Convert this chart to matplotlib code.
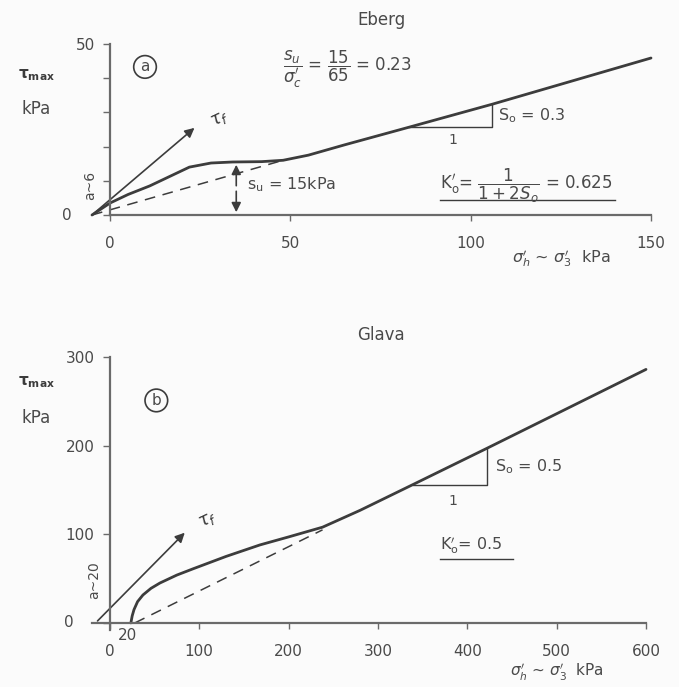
import numpy as np
import matplotlib.pyplot as plt
from matplotlib.patches import FancyArrowPatch

plt.rcParams['font.family'] = ['DejaVu Sans']
plt.rcParams['mathtext.fontset'] = 'dejavusans'

# panel (a) Eberg
eberg_x = [-5, 0, 5, 11, 17, 22, 28, 34, 42, 48, 55, 65, 83, 106, 150]
eberg_y = [0, 3.5, 6, 8.5, 11.5, 14, 15.2, 15.5, 15.6, 16, 17.5, 20.5, 25.7, 32.4, 45.9]
eberg_dash_x = [-5, 48]
eberg_dash_y = [0, 16]
eberg_tauf = [(-5, 0), (24, 26)]
eberg_su_x = 35
eberg_su = 15.5
eberg_tri = [(83, 25.7), (106, 25.7), (106, 32.6)]

# panel (b) Glava
glava_x = [23.5, 25, 27, 31, 37, 46, 56, 75, 93, 130, 168, 200, 238, 280, 339, 422, 600]
glava_y = [0, 8, 15, 24, 31.5, 39, 45, 54, 61, 75, 88, 97, 108, 127, 156, 197, 286]
glava_dash_x = [28, 238]
glava_dash_y = [0, 105]
glava_tauf = [(-16, 0), (86, 104)]
glava_tri = [(339, 156), (422, 156), (422, 197)]

ink = '#3c3c3c'
axc = '#6a6a6a'
txt = '#4a4a4a'

fig = plt.figure(figsize=(6.79, 6.87), dpi=100, facecolor='#fbfbfb')


def base_axes(ax, xlim, ylim, xbounds, ybounds):
    ax.set_facecolor('none')
    ax.set_xlim(*xlim)
    ax.set_ylim(*ylim)
    for s in ['top', 'right']:
        ax.spines[s].set_visible(False)
    ax.spines['left'].set_position(('data', 0))
    ax.spines['bottom'].set_position(('data', 0))
    ax.spines['bottom'].set_bounds(*xbounds)
    ax.spines['left'].set_bounds(*ybounds)
    for s in ['left', 'bottom']:
        ax.spines[s].set_color(axc)
        ax.spines[s].set_linewidth(1.6)
    ax.tick_params(colors=axc, labelcolor=txt, labelsize=11, width=1, length=5, direction='out')


def arrow(ax, p0, p1, style='-|>'):
    ax.add_patch(FancyArrowPatch(p0, p1, arrowstyle=style, mutation_scale=14,
                                 color=ink, lw=1.2, clip_on=False))


# ---------------- (a) ----------------
ax1 = fig.add_axes([92 / 679, 1 - 215 / 687, 559 / 679, 171 / 687])
base_axes(ax1, (-5, 150), (0, 50), (0, 150), (0, 50))
ax1.set_yticks([0, 10, 20, 30, 40, 50])
ax1.set_yticklabels(['', '', '', '', '', '50'])
ax1.set_xticks([0, 50, 100, 150])
ax1.set_xticklabels(['0', '50', '100', '150'])
ax1.tick_params(axis='x', length=4, pad=11)
ax1.tick_params(axis='y', pad=6)

ax1.plot(eberg_x, eberg_y, color=ink, lw=2.0, clip_on=False, solid_capstyle='round')
ax1.plot(eberg_dash_x, eberg_dash_y, color=ink, lw=1.1, ls=(0, (7, 5)), clip_on=False)
arrow(ax1, *eberg_tauf)
arrow(ax1, (eberg_su_x, eberg_su / 2), (eberg_su_x, 0), '-|>')
arrow(ax1, (eberg_su_x, eberg_su / 2), (eberg_su_x, eberg_su), '-|>')
tx, ty = zip(*eberg_tri)
ax1.plot(tx, ty, color=ink, lw=1.0)

ax1.text(-12, 0, '0', fontsize=11, color=txt, ha='center', va='center')
ax1.text(-5.5, 8.5, 'a~6', fontsize=10, color=txt, rotation=90, ha='center', va='center')
ax1.text(27, 28, r'$\tau_f$', fontsize=13, color=ink, rotation=25, ha='left', va='center')
ax1.text(9.7, 43.3, 'a', fontsize=11, color=txt, ha='center', va='center',
         bbox=dict(boxstyle='circle,pad=0.25', fc='none', ec=ink, lw=1.2))
ax1.text(38, 8.8, r'$\mathsf{s_u}$ = 15kPa', fontsize=11.5, color=txt, ha='left', va='center')
ax1.text(48, 42.5, r"$\dfrac{s_u}{\sigma_c'}$ = $\dfrac{15}{65}$ = 0.23", fontsize=12,
         color=txt, ha='left', va='center')
ax1.text(107.5, 29, r'$\mathsf{S_o}$ = 0.3', fontsize=11.5, color=txt, ha='left', va='center')
ax1.text(95, 22, '1', fontsize=10, color=txt, ha='center', va='center')
ax1.text(91.5, 8.5, r"$\mathsf{K_o'}$= $\dfrac{1}{1+2S_o}$ = 0.625", fontsize=12,
         color=txt, ha='left', va='center')
ax1.plot([91.5, 140], [4.4, 4.4], color=ink, lw=1.0)
ax1.text(75.4, 57, 'Eberg', fontsize=12, color=txt, ha='center', va='center', clip_on=False)
ax1.text(-20.5, 41, r'$\mathbf{\tau_{max}}$', fontsize=11, color=ink, ha='center', va='center',
         clip_on=False)
ax1.text(-20.5, 31, 'kPa', fontsize=12, color=txt, ha='center', va='center', clip_on=False)
ax1.text(125, -12.6, r"$\sigma_h'$ ~ $\sigma_3'$  kPa", fontsize=11.5, color=txt,
         ha='center', va='center', clip_on=False)

# ---------------- (b) ----------------
ax2 = fig.add_axes([92 / 679, 1 - 630 / 687, 554 / 679, 273 / 687])
base_axes(ax2, (-20, 600), (-8, 300), (-20, 600), (-8, 300))
ax2.set_yticks([0, 100, 200, 300])
ax2.set_yticklabels(['', '100', '200', '300'])
ax2.set_xticks([0, 100, 200, 300, 400, 500, 600])
ax2.tick_params(axis='x', length=4, pad=11)
ax2.tick_params(axis='y', pad=6)

ax2.plot(glava_x, glava_y, color=ink, lw=2.0, clip_on=False, solid_capstyle='round')
ax2.plot(glava_dash_x, glava_dash_y, color=ink, lw=1.1, ls=(0, (7, 5)))
arrow(ax2, *glava_tauf)
tx, ty = zip(*glava_tri)
ax2.plot(tx, ty, color=ink, lw=1.0)

ax2.text(-46, 0, '0', fontsize=11, color=txt, ha='center', va='center', clip_on=False)
ax2.text(20, -14, '20', fontsize=11, color=txt, ha='center', va='center')
ax2.text(-18, 48, 'a~20', fontsize=10, color=txt, rotation=90, ha='center', va='center')
ax2.text(96, 116, r'$\tau_f$', fontsize=13, color=ink, rotation=25, ha='left', va='center')
ax2.text(52, 251, 'b', fontsize=11, color=txt, ha='center', va='center',
         bbox=dict(boxstyle='circle,pad=0.25', fc='none', ec=ink, lw=1.2))
ax2.text(431, 176, r'$\mathsf{S_o}$ = 0.5', fontsize=11.5, color=txt, ha='left', va='center')
ax2.text(384, 138, '1', fontsize=10, color=txt, ha='center', va='center')
ax2.text(369, 88, r"$\mathsf{K_o'}$= 0.5", fontsize=11.5, color=txt, ha='left', va='center')
ax2.plot([369, 451], [72, 72], color=ink, lw=1.0)
ax2.text(303, 325, 'Glava', fontsize=12, color=txt, ha='center', va='center', clip_on=False)
ax2.text(-82, 272, r'$\mathbf{\tau_{max}}$', fontsize=11, color=ink, ha='center', va='center',
         clip_on=False)
ax2.text(-82, 231, 'kPa', fontsize=12, color=txt, ha='center', va='center', clip_on=False)
ax2.text(500, -56, r"$\sigma_h'$ ~ $\sigma_3'$  kPa", fontsize=11, color=txt,
         ha='center', va='center', clip_on=False)

fig.savefig('out.png', dpi=100, facecolor=fig.get_facecolor())
